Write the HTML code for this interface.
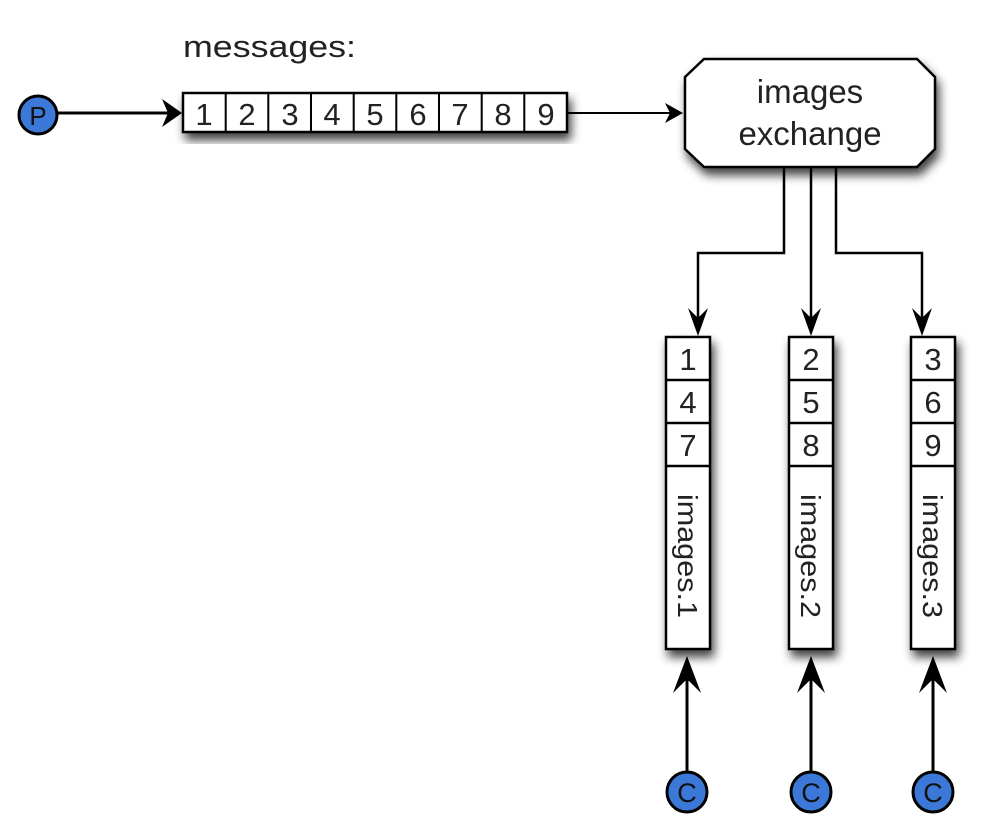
<!DOCTYPE html>
<html><head><style>body{margin:0;background:#fff}svg{display:block}</style></head><body>
<svg width="1004" height="824" viewBox="0 0 1004 824" xmlns="http://www.w3.org/2000/svg" font-family="Liberation Sans, sans-serif">
<defs>
<filter id="sh" x="-30%" y="-20%" width="170%" height="150%"><feGaussianBlur in="SourceAlpha" stdDeviation="5"/><feOffset dx="3" dy="7"/><feComponentTransfer><feFuncA type="linear" slope="0.75"/></feComponentTransfer><feMerge><feMergeNode/><feMergeNode in="SourceGraphic"/></feMerge></filter>
</defs>
<text x="183" y="57" font-size="31" fill="#222" textLength="173" lengthAdjust="spacingAndGlyphs">messages:</text>
<!-- P -->
<line x1="58" y1="113" x2="176" y2="113" stroke="#000" stroke-width="3"/>
<path d="M182 113 L162 99 L168 113 L162 127 Z" fill="#000"/>
<circle cx="38" cy="115" r="19" fill="#3c78d8" stroke="#000" stroke-width="3"/>
<text x="38" y="125" font-size="26" text-anchor="middle" fill="#111">P</text>
<!-- message bar -->
<g filter="url(#sh)"><rect x="183" y="93" width="384" height="39" fill="#fff" stroke="#000" stroke-width="2.5"/></g>
<g stroke="#000" stroke-width="2">
<line x1="225.7" y1="93" x2="225.7" y2="132"/><line x1="268.3" y1="93" x2="268.3" y2="132"/><line x1="311" y1="93" x2="311" y2="132"/><line x1="353.7" y1="93" x2="353.7" y2="132"/><line x1="396.3" y1="93" x2="396.3" y2="132"/><line x1="439" y1="93" x2="439" y2="132"/><line x1="481.7" y1="93" x2="481.7" y2="132"/><line x1="524.3" y1="93" x2="524.3" y2="132"/>
</g>
<g font-size="31" text-anchor="middle" fill="#222">
<text x="204" y="125">1</text><text x="247" y="125">2</text><text x="290" y="125">3</text><text x="332" y="125">4</text><text x="375" y="125">5</text><text x="418" y="125">6</text><text x="460" y="125">7</text><text x="503" y="125">8</text><text x="546" y="125">9</text>
</g>
<line x1="567" y1="113" x2="676" y2="113" stroke="#000" stroke-width="2"/>
<path d="M683 113 L665 103 L670 113 L665 123 Z" fill="#000"/>
<!-- exchange -->
<g filter="url(#sh)"><path d="M704 59 L917 59 L935 77 L935 149 L917 167 L704 167 L685 149 L685 77 Z" fill="#fff" stroke="#000" stroke-width="2.5"/></g>
<text x="810" y="103" font-size="33" text-anchor="middle" fill="#222">images</text>
<text x="810" y="145" font-size="33" text-anchor="middle" fill="#222">exchange</text>
<!-- connectors -->
<g stroke="#000" stroke-width="2.5" fill="none">
<path d="M784 167 V253 H698 V330"/>
<path d="M811 167 V330"/>
<path d="M836 167 V253 H922 V330"/>
</g>
<g fill="#000">
<path d="M698 336 L688 308 L698 318 L708 308 Z"/>
<path d="M811 336 L801 308 L811 318 L821 308 Z"/>
<path d="M922 336 L912 308 L922 318 L932 308 Z"/>
</g>
<!-- queues -->
<g font-size="31" text-anchor="middle" fill="#222">
<g filter="url(#sh)"><rect x="666" y="337" width="44" height="312" fill="#fff" stroke="#000" stroke-width="2.5"/></g>
<g filter="url(#sh)"><rect x="789" y="337" width="44" height="312" fill="#fff" stroke="#000" stroke-width="2.5"/></g>
<g filter="url(#sh)"><rect x="911" y="337" width="44" height="312" fill="#fff" stroke="#000" stroke-width="2.5"/></g>
<g stroke="#000" stroke-width="2.5">
<line x1="666" y1="380" x2="710" y2="380"/><line x1="666" y1="423" x2="710" y2="423"/><line x1="666" y1="466" x2="710" y2="466"/>
<line x1="789" y1="380" x2="833" y2="380"/><line x1="789" y1="423" x2="833" y2="423"/><line x1="789" y1="466" x2="833" y2="466"/>
<line x1="911" y1="380" x2="955" y2="380"/><line x1="911" y1="423" x2="955" y2="423"/><line x1="911" y1="466" x2="955" y2="466"/>
</g>
<text x="688" y="370">1</text><text x="688" y="413">4</text><text x="688" y="456">7</text>
<text x="811" y="370">2</text><text x="811" y="413">5</text><text x="811" y="456">8</text>
<text x="933" y="370">3</text><text x="933" y="413">6</text><text x="933" y="456">9</text>
<text transform="translate(678,556) rotate(90)" font-size="28" textLength="124" lengthAdjust="spacingAndGlyphs">images.1</text>
<text transform="translate(801,556) rotate(90)" font-size="28" textLength="124" lengthAdjust="spacingAndGlyphs">images.2</text>
<text transform="translate(923,556) rotate(90)" font-size="28" textLength="124" lengthAdjust="spacingAndGlyphs">images.3</text>
</g>
<!-- consumers -->
<g stroke="#000" stroke-width="3">
<line x1="687" y1="771" x2="687" y2="665"/><line x1="811" y1="771" x2="811" y2="665"/><line x1="933" y1="771" x2="933" y2="665"/>
</g>
<g fill="#000">
<path d="M687 656 L673 693 L687 679 L701 693 Z"/>
<path d="M811 656 L797 693 L811 679 L825 693 Z"/>
<path d="M933 656 L919 693 L933 679 L947 693 Z"/>
</g>
<g fill="#3c78d8" stroke="#000" stroke-width="3">
<circle cx="687" cy="792" r="20"/><circle cx="811" cy="792" r="20"/><circle cx="933" cy="792" r="20"/>
</g>
<g font-size="27" text-anchor="middle" fill="#111">
<text x="687" y="802">C</text><text x="811" y="802">C</text><text x="933" y="802">C</text>
</g>
</svg>
</body></html>
